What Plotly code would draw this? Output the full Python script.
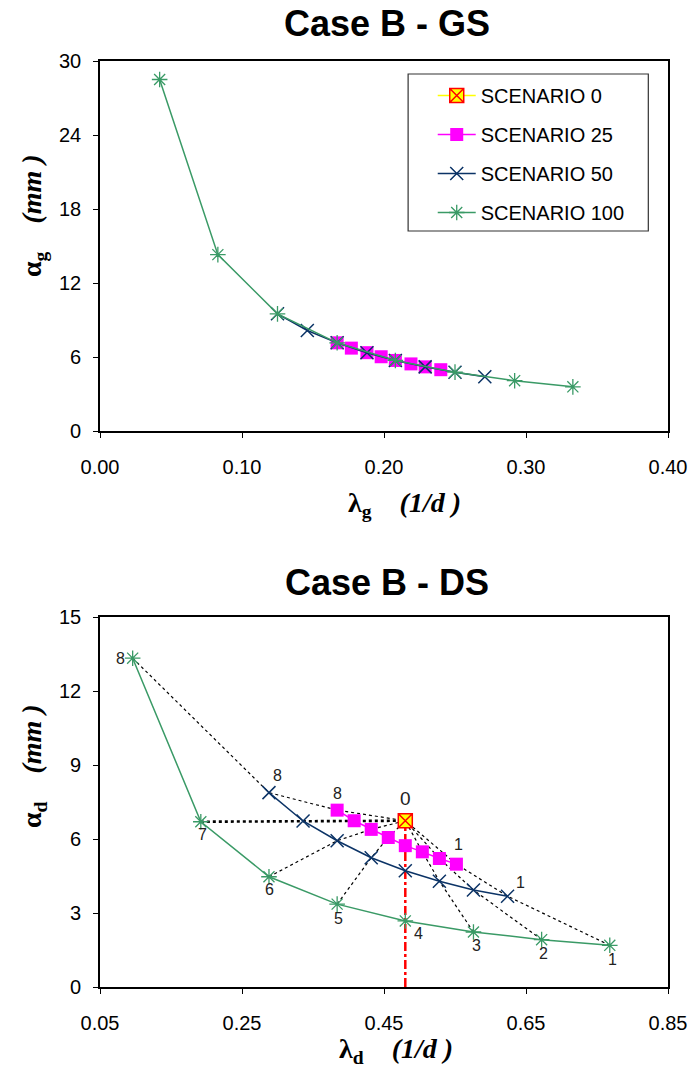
import plotly.graph_objects as go

# ---------------- Case B - GS ----------------
gs_lam_s0 = [0.208]
gs_alpha_s0 = [5.72]
gs_lam_s25 = [0.167, 0.177, 0.188, 0.198, 0.208, 0.219, 0.229, 0.240]
gs_alpha_s25 = [7.15, 6.72, 6.35, 6.02, 5.72, 5.44, 5.20, 4.97]
gs_lam_s50 = [0.125, 0.146, 0.167, 0.188, 0.208, 0.229, 0.250, 0.271]
gs_alpha_s50 = [9.50, 8.15, 7.15, 6.35, 5.72, 5.20, 4.77, 4.40]
gs_lam_s100 = [0.042, 0.083, 0.125, 0.167, 0.208, 0.250, 0.292, 0.333]
gs_alpha_s100 = [28.5, 14.3, 9.50, 7.15, 5.72, 4.77, 4.08, 3.58]

# ---------------- Case B - DS (points ordered 1 .. 8) ----------------
ds_lam_s0 = [0.480]
ds_alpha_s0 = [6.74]
ds_lam_s25 = [0.552, 0.528, 0.504, 0.480, 0.456, 0.432, 0.408, 0.384]
ds_alpha_s25 = [4.98, 5.21, 5.48, 5.73, 6.06, 6.39, 6.74, 7.17]
ds_lam_s50 = [0.624, 0.576, 0.528, 0.480, 0.432, 0.384, 0.336, 0.288]
ds_alpha_s50 = [3.68, 3.93, 4.29, 4.71, 5.24, 5.93, 6.73, 7.88]
ds_lam_s100 = [0.768, 0.672, 0.576, 0.480, 0.384, 0.288, 0.192, 0.096]
ds_alpha_s100 = [1.69, 1.92, 2.23, 2.68, 3.36, 4.47, 6.70, 13.33]
point_labels = ["1", "2", "3", "4", "5", "6", "7", "8"]

series_names = ["SCENARIO 0", "SCENARIO 25", "SCENARIO 50", "SCENARIO 100"]

YELLOW = "#FFFF00"
RED = "#FF0000"
MAGENTA = "#FF00FF"
NAVY = "#0B3366"
GREEN = "#3A9A66"

# figure geometry (pixels)
W, H = 699, 1075
ML, MR, MT, MB = 100, 22, 61, 88
PW = W - ML - MR
PH = H - MT - MB


def px_x(px):
    return (px - ML) / PW


def px_y(py):
    return (H - MB - py) / PH


top_dom = [px_y(431), 1.0]
bot_dom = [0.0, px_y(617)]

fig = go.Figure()


def style(name, s0_size=14):
    if name == "SCENARIO 0":
        return dict(line=dict(color=YELLOW, width=1.5),
                    marker=dict(symbol="square-x", size=s0_size, color=YELLOW,
                                line=dict(color=RED, width=1.5)))
    if name == "SCENARIO 25":
        return dict(line=dict(color=MAGENTA, width=1.5),
                    marker=dict(symbol="square", size=13, color=MAGENTA,
                                line=dict(width=0)))
    if name == "SCENARIO 50":
        return dict(line=dict(color=NAVY, width=1.5),
                    marker=dict(symbol="x-thin-open", size=13, color=NAVY,
                                line=dict(color=NAVY, width=1.5)))
    return dict(line=dict(color=GREEN, width=1.5),
                marker=dict(symbol="asterisk-open", size=13, color=GREEN,
                            line=dict(color=GREEN, width=1.3)))


# ---- top panel ----
gs = {
    "SCENARIO 0": (gs_lam_s0, gs_alpha_s0),
    "SCENARIO 25": (gs_lam_s25, gs_alpha_s25),
    "SCENARIO 50": (gs_lam_s50, gs_alpha_s50),
    "SCENARIO 100": (gs_lam_s100, gs_alpha_s100),
}
for name in series_names:
    x, y = gs[name]
    fig.add_trace(go.Scatter(x=x, y=y, mode="lines+markers", name=name,
                             legendgroup=name, showlegend=False,
                             xaxis="x", yaxis="y", **style(name, s0_size=9)))

# ---- bottom panel: dotted links from each point i to scenario 0 ----
for i in range(len(point_labels)):
    if i == 3:
        continue
    fig.add_trace(go.Scatter(
        x=[ds_lam_s100[i], ds_lam_s50[i], ds_lam_s25[i], ds_lam_s0[0]],
        y=[ds_alpha_s100[i], ds_alpha_s50[i], ds_alpha_s25[i], ds_alpha_s0[0]],
        mode="lines", showlegend=False, hoverinfo="skip",
        line=dict(color="black", width=2.6 if i == 6 else 1.2, dash="dot"),
        xaxis="x2", yaxis="y2"))

# vertical dash-dot line below scenario 0
fig.add_trace(go.Scatter(
    x=[ds_lam_s0[0], ds_lam_s0[0]], y=[0, ds_alpha_s0[0]],
    mode="lines", showlegend=False, hoverinfo="skip",
    line=dict(color=RED, width=2.5, dash="dashdot"),
    xaxis="x2", yaxis="y2"))

ds = {
    "SCENARIO 0": (ds_lam_s0, ds_alpha_s0),
    "SCENARIO 25": (ds_lam_s25, ds_alpha_s25),
    "SCENARIO 50": (ds_lam_s50, ds_alpha_s50),
    "SCENARIO 100": (ds_lam_s100, ds_alpha_s100),
}
for name in series_names:
    x, y = ds[name]
    fig.add_trace(go.Scatter(x=x, y=y, mode="lines+markers", name=name,
                             legendgroup=name, showlegend=True,
                             xaxis="x2", yaxis="y2", **style(name)))

# ---- point numbers ----
LBL = dict(family="Liberation Sans, Arial, sans-serif", size=16, color="#222222")
ann = []


def label(x, y, text, dx, dy, font=LBL):
    ann.append(dict(x=x, y=y, xref="x2", yref="y2", text=text, showarrow=False,
                    xshift=dx, yshift=dy, xanchor="center", yanchor="middle",
                    font=font))


green_shift = {0: (3, -14), 1: (2, -14), 2: (3, -14), 3: (13, -13),
               4: (1, -14), 5: (1, -13), 6: (2, -13), 7: (-12, 0)}
for i, (dx, dy) in green_shift.items():
    label(ds_lam_s100[i], ds_alpha_s100[i], point_labels[i], dx, dy)
for i, (dx, dy) in {0: (13, 14), 7: (9, 17)}.items():
    label(ds_lam_s50[i], ds_alpha_s50[i], point_labels[i], dx, dy)
for i, (dx, dy) in {0: (2, 20), 7: (0, 17)}.items():
    label(ds_lam_s25[i], ds_alpha_s25[i], point_labels[i], dx, dy)
label(ds_lam_s0[0], ds_alpha_s0[0], "0", 0, 22,
      dict(family="Liberation Sans, Arial, sans-serif", size=19, color="#222222"))

# ---- titles ----
TITLE = dict(family="Liberation Sans, Arial, sans-serif", size=36, color="black")
AX = dict(family="Liberation Serif, Times New Roman, serif", size=28, color="black")


def paper_text(text, x, y, font, angle=0):
    ann.append(dict(text=text, x=px_x(x), y=px_y(y), xref="paper", yref="paper",
                    xanchor="center", yanchor="middle", textangle=angle,
                    showarrow=False, font=font))


paper_text("<b>Case B - GS</b>", 392, 23, TITLE)
paper_text("<b>Case B - DS</b>", 392, 582, TITLE)
paper_text("<b>λ<sub>g</sub></b>\u00a0\u00a0\u00a0\u00a0<b><i>(1/d )</i></b>",
           409, 504, AX)
paper_text("<b>λ<sub>d</sub></b>\u00a0\u00a0\u00a0\u00a0<b><i>(1/d )</i></b>",
           401, 1050, AX)
paper_text("<b>α<sub>g</sub></b>\u00a0\u00a0\u00a0\u00a0<b><i>(mm )</i></b>",
           32, 216, AX, -90)
paper_text("<b>α<sub>d</sub></b>\u00a0\u00a0\u00a0\u00a0<b><i>(mm )</i></b>",
           32, 766, AX, -90)

TICK = dict(family="Liberation Sans, Arial, sans-serif", size=20, color="black")
axis_common = dict(showgrid=False, zeroline=False, showline=True, mirror=True,
                   linecolor="black", linewidth=1.6, ticks="outside", ticklen=5,
                   tickcolor="black", tickwidth=1.2, tickfont=TICK)

fig.update_layout(
    width=W, height=H,
    margin=dict(l=ML, r=MR, t=MT, b=MB),
    paper_bgcolor="white", plot_bgcolor="white",
    showlegend=True,
    xaxis=dict(domain=[0, 1], anchor="y", range=[0, 0.4], tick0=0, dtick=0.1,
               tickformat=".2f", ticklabelstandoff=12, **axis_common),
    yaxis=dict(domain=top_dom, anchor="x", range=[0, 30], tick0=0, dtick=6,
               ticklabelstandoff=8, **axis_common),
    xaxis2=dict(domain=[0, 1], anchor="y2", range=[0.05, 0.85], tick0=0.05,
                dtick=0.2, tickformat=".2f", ticklabelstandoff=12, **axis_common),
    yaxis2=dict(domain=bot_dom, anchor="x2", range=[0, 15], tick0=0, dtick=3,
                ticklabelstandoff=8, **axis_common),
    legend=dict(x=px_x(438), y=px_y(76), xanchor="left", yanchor="top",
                bgcolor="rgba(0,0,0,0)", borderwidth=0, traceorder="grouped",
                tracegroupgap=10, itemwidth=38,
                font=dict(family="Liberation Sans, Arial, sans-serif", size=20,
                          color="black")),
    shapes=[dict(type="rect", xref="paper", yref="paper",
                 x0=px_x(413), x1=px_x(657), y0=px_y(231), y1=px_y(74),
                 line=dict(color="#333333", width=1.2), fillcolor="white",
                 layer="below")],
    annotations=ann,
)

fig.write_html("out.html")
